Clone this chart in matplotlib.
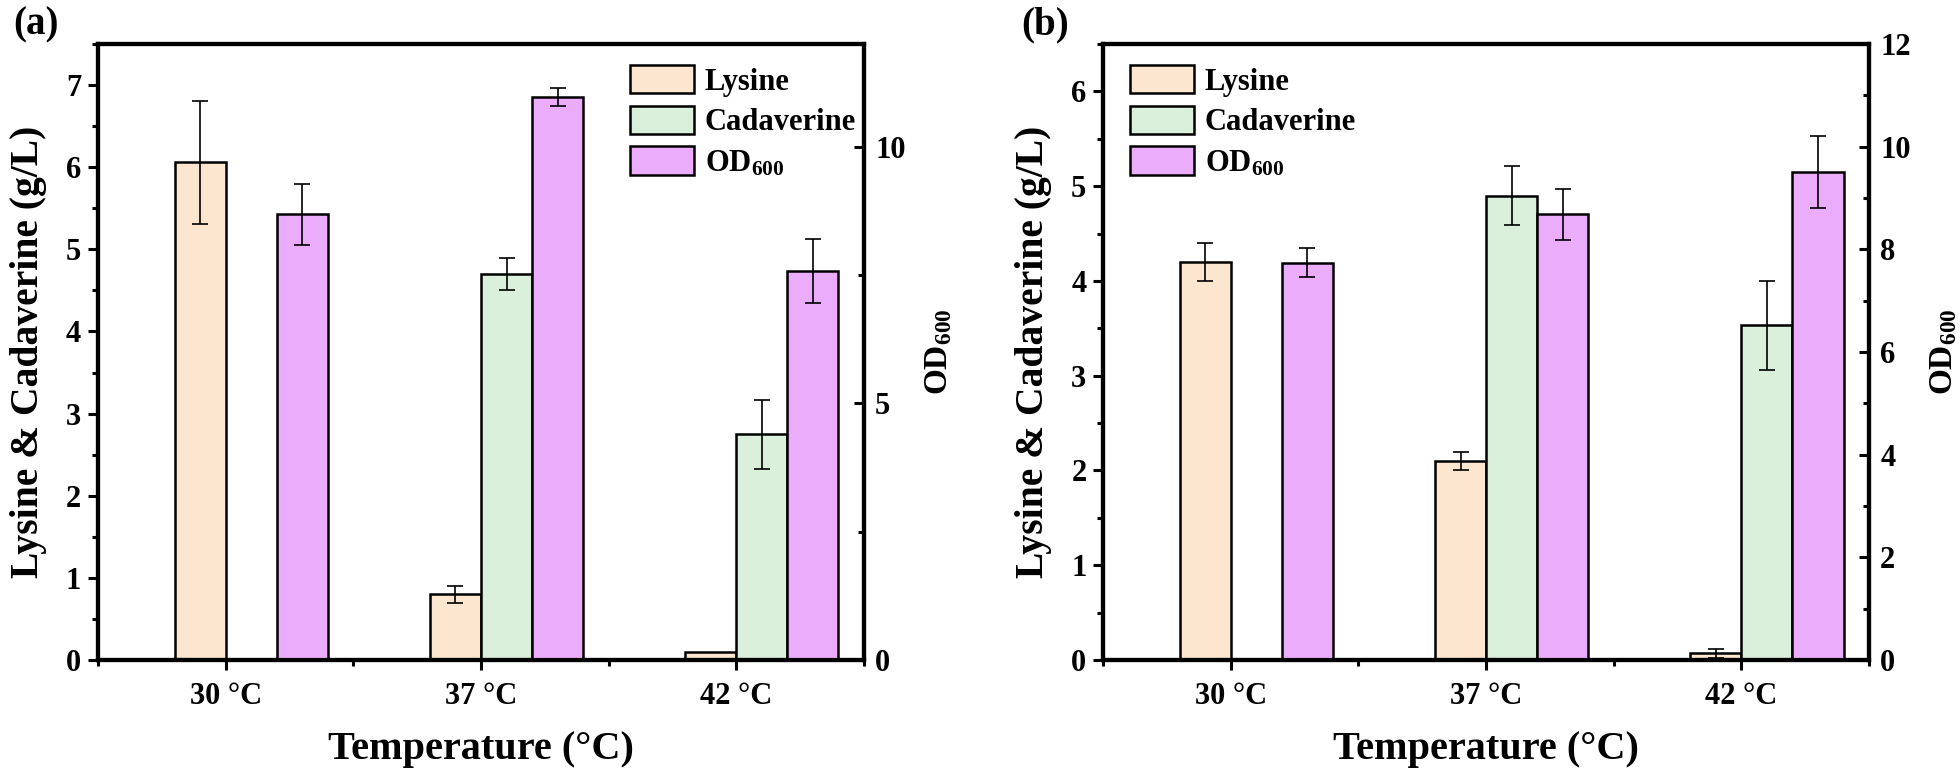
import numpy as np
import matplotlib
matplotlib.use('Agg')
import matplotlib.pyplot as plt
from matplotlib.ticker import MultipleLocator

plt.rcParams['font.family'] = ['Liberation Serif', 'DejaVu Serif']
plt.rcParams['font.weight'] = 'bold'
plt.rcParams['axes.labelweight'] = 'bold'
plt.rcParams['mathtext.default'] = 'regular'

temps = ['30 °C', '37 °C', '42 °C']

# panel (a)
lys_a = [6.06, 0.80, 0.10]
lys_a_err = [0.75, 0.10, 0.0]
cad_a = [0.0, 4.70, 2.75]
cad_a_err = [0.0, 0.19, 0.42]
od_a = [8.68, 10.97, 7.58]
od_a_err = [0.60, 0.18, 0.63]

# panel (b)
lys_b = [4.20, 2.10, 0.07]
lys_b_err = [0.20, 0.10, 0.05]
cad_b = [0.0, 4.90, 3.53]
cad_b_err = [0.0, 0.31, 0.47]
od_b = [7.74, 8.68, 9.51]
od_b_err = [0.28, 0.50, 0.70]

c_lys = '#FDE6CF'
c_cad = '#DAF0DA'
c_od = '#ECACFC'

fig = plt.figure(figsize=(19.6, 7.69), dpi=100)


def panel(rect, lys, lys_err, cad, cad_err, od, od_err, ylim_l, ylim_r,
          maj_r, min_r, leg_pos, tag, tag_x):
    ax = fig.add_axes(rect)
    ax2 = ax.twinx()
    x = np.arange(len(temps))
    w = 0.2
    ek = dict(ecolor='black', elinewidth=1.2, capsize=6, capthick=1.2)
    b1 = ax.bar(x - 0.1, lys, w, color=c_lys, edgecolor='black', linewidth=1.8,
                yerr=[e if e > 0 else np.nan for e in lys_err], error_kw=ek, label='Lysine')
    cad_h = [v if v > 0 else np.nan for v in cad]
    b2 = ax.bar(x + 0.1, cad_h, w, color=c_cad, edgecolor='black', linewidth=1.8,
                yerr=[e if e > 0 else np.nan for e in cad_err], error_kw=ek, label='Cadaverine')
    b3 = ax2.bar(x + 0.3, od, w, color=c_od, edgecolor='black', linewidth=1.8,
                 yerr=od_err, error_kw=ek, label='OD$_{600}$')

    ax.set_xlim(-0.5, 2.5)
    ax.set_ylim(*ylim_l)
    ax2.set_ylim(*ylim_r)
    ax.set_xticks(x)
    ax.set_xticklabels(temps)
    ax.xaxis.set_minor_locator(MultipleLocator(0.5))
    ax.yaxis.set_major_locator(MultipleLocator(1))
    ax.yaxis.set_minor_locator(MultipleLocator(0.5))
    ax2.yaxis.set_major_locator(MultipleLocator(maj_r))
    ax2.yaxis.set_minor_locator(MultipleLocator(min_r))

    for a in (ax, ax2):
        for s in a.spines.values():
            s.set_linewidth(3)
    ax.tick_params(axis='both', which='major', direction='out', length=7, width=2.2,
                   labelsize=22, pad=5)
    ax.tick_params(axis='both', which='minor', direction='out', length=4, width=2.2)
    ax2.tick_params(axis='y', which='major', direction='in', length=7, width=2.2,
                    labelsize=22, pad=8)
    ax2.tick_params(axis='y', which='minor', direction='in', length=4, width=2.2)
    ax.tick_params(axis='x', which='major', pad=9)

    ax.set_xlabel('Temperature (°C)', fontsize=29, labelpad=14)
    ax.set_ylabel('Lysine & Cadaverine (g/L)', fontsize=28.5)
    ax.yaxis.set_label_coords(-0.067, 0.5)
    ax2.set_ylabel('OD$_{600}$', fontsize=24)
    ax2.yaxis.set_label_coords(1.077, 0.5)

    ax.legend([b1, b2, b3], ['Lysine', 'Cadaverine', 'OD$_{600}$'],
              loc='upper left', bbox_to_anchor=leg_pos, frameon=False,
              fontsize=22, borderpad=0, handlelength=2.1, handleheight=1.05,
              labelspacing=0.3, handletextpad=0.35, borderaxespad=0)
    fig.text(tag_x, 0.991, tag, fontsize=28, fontweight='bold', va='top', ha='left')
    return ax, ax2


panel([0.050, 0.1417, 0.3908, 0.8011], lys_a, lys_a_err, cad_a, cad_a_err,
      od_a, od_a_err, (0, 7.5), (0, 12), 5, 2.5, (0.6945, 0.966), '(a)', 0.0066)
panel([0.5628, 0.1417, 0.3908, 0.8011], lys_b, lys_b_err, cad_b, cad_b_err,
      od_b, od_b_err, (0, 6.5), (0, 12), 2, 1, (0.035, 0.966), '(b)', 0.521)

fig.savefig('out.png', dpi=100)
